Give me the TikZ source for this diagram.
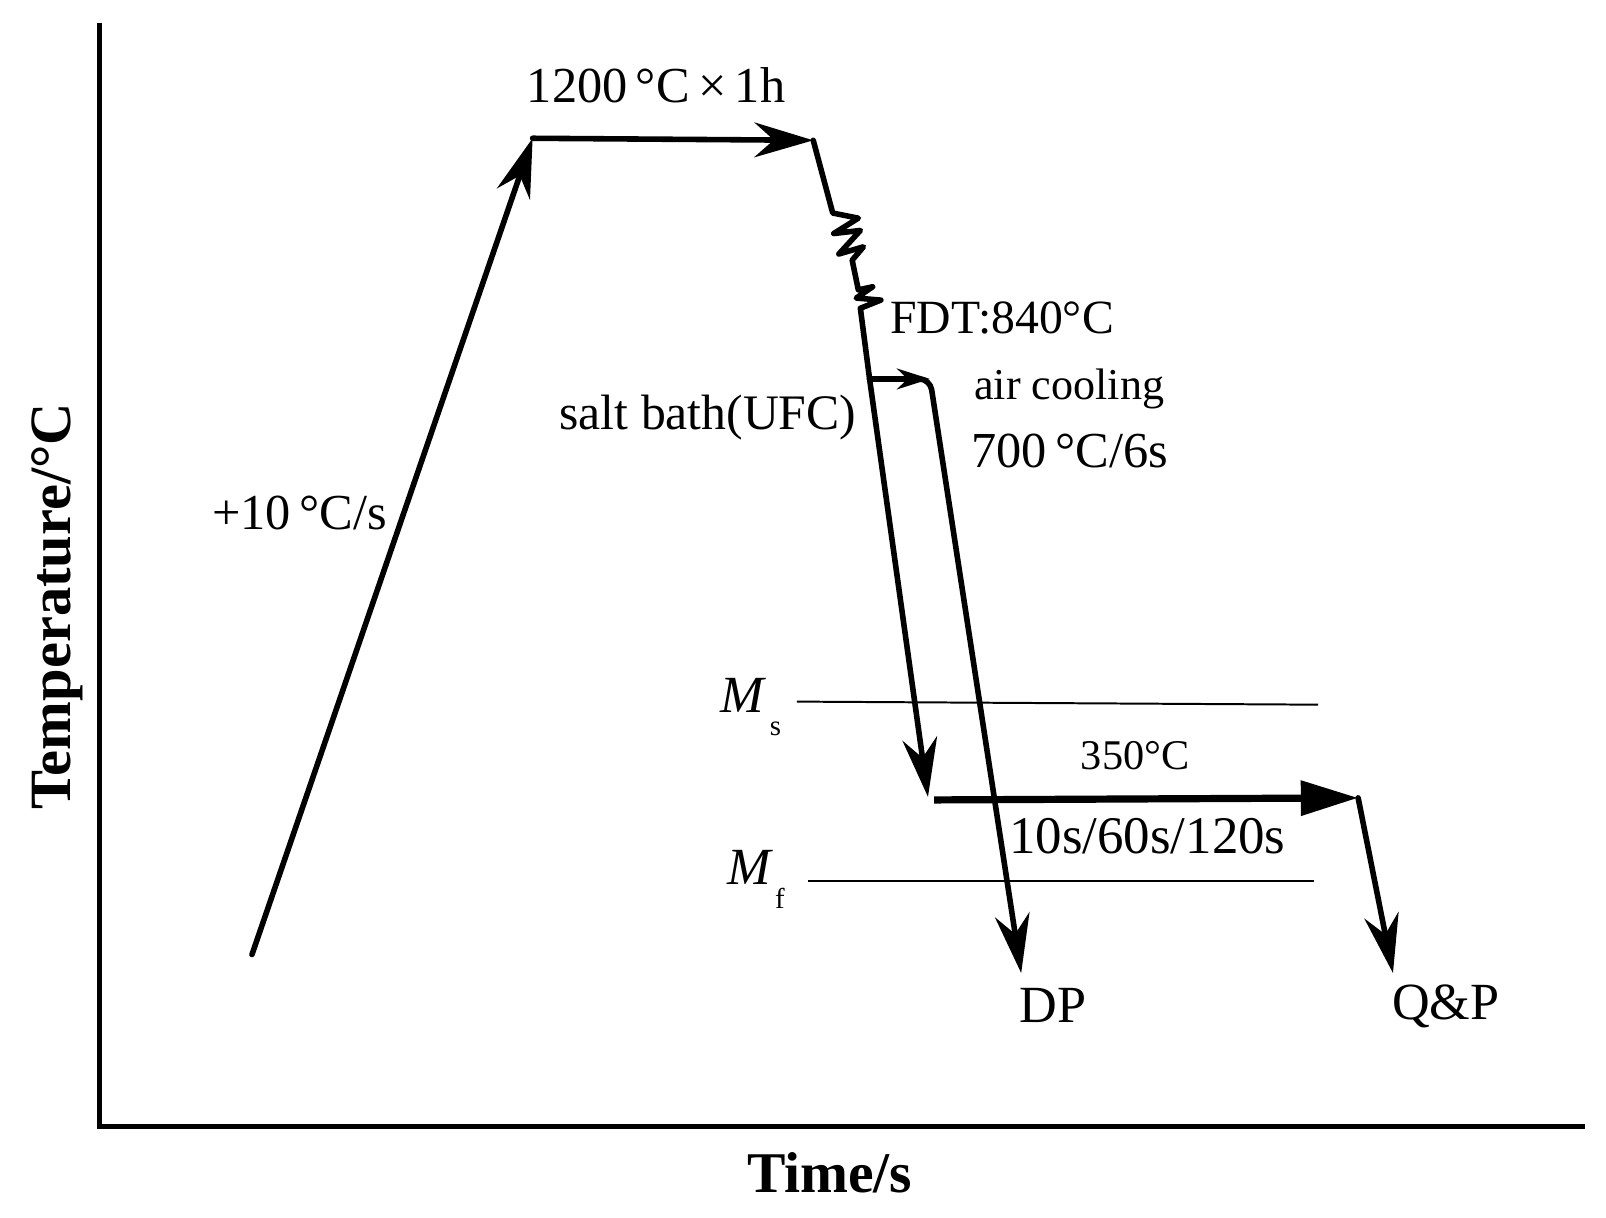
\documentclass[tikz,border=0pt]{standalone}
\usepackage{fontspec}
\setmainfont{Liberation Serif}
\usetikzlibrary{arrows.meta}
\newcommand{\fsz}[1]{\fontsize{#1}{#1}\selectfont}
\begin{document}
\begin{tikzpicture}[x=0.02cm,y=-0.02cm,
  axisline/.style={line width=2.8pt, line join=miter},
  route/.style={line width=3.1pt, line join=round, line cap=round},
  holdline/.style={line width=4pt},
  level/.style={line width=1.1pt},
  bigtip/.style={-{Stealth[length=1.15cm,width=0.68cm,inset=0.38cm]}},
  smalltip/.style={-{Stealth[length=0.64cm,width=0.4cm,inset=0.2cm]}},
  tritip/.style={-{Triangle[length=1.12cm,width=0.66cm]}},
  lbl/.style={inner sep=0pt, anchor=base west},
]
\useasboundingbox (0,0) rectangle (1568,1189);

% axes
\coordinate (Ytop) at (97,22);
\coordinate (O) at (97,1100);
\coordinate (Xend) at (1547,1100);
\draw[axisline] (Ytop) -- (O) -- (Xend);

% key points
\coordinate (A0) at (246,932);
\coordinate (A1) at (520,135);
\coordinate (A2) at (794,137);
\coordinate (Z1) at (813,208);
\coordinate (Z2) at (838,213);
\coordinate (Z3) at (814,228);
\coordinate (Z4) at (840,225);
\coordinate (Z5) at (819,248);
\coordinate (Z6) at (843,241);
\coordinate (Z7) at (832,254);
\coordinate (Z8) at (838,283);
\coordinate (Z9) at (852,280);
\coordinate (Z10) at (836,291);
\coordinate (Z11) at (860,293);
\coordinate (F) at (840,301);
\coordinate (B0) at (849,370);
\coordinate (B1) at (908,370);
\coordinate (DPtip) at (997,950);
\coordinate (UFCtip) at (906,778);
\coordinate (Q0) at (912,781);
\coordinate (Q1) at (1326,779);
\coordinate (QPtip) at (1360,950);
\coordinate (Ms0) at (778,685);
\coordinate (Ms1) at (1287,688);
\coordinate (Mf0) at (789,860);
\coordinate (Mf1) at (1283,860);

% heating ramp and soak
\draw[route, bigtip] (A0) -- (A1);
\draw[route, bigtip] (A1) -- (A2);
% rolling with zigzag
\draw[route] (A2) -- (Z1) -- (Z2) -- (Z3) -- (Z4) -- (Z5) -- (Z6) -- (Z7) -- (Z8) -- (Z9) -- (Z10) -- (Z11) -- (F) -- (B0);
% salt bath (UFC)
\draw[route, bigtip] (B0) -- (UFCtip);
% air cooling branch
\draw[route, rounded corners=6pt, bigtip] (B0) -- (B1) -- (DPtip);
\draw[route, smalltip] (B0) -- (B1);
% isothermal hold at 350
\draw[holdline, tritip] (Q0) -- (Q1);
\draw[route, bigtip] (Q1) -- (QPtip);

% Ms / Mf lines
\draw[level] (Ms0) -- (Ms1);
\draw[level] (Mf0) -- (Mf1);

% labels
\node[lbl] (t1200) at (514,100) {\fsz{28}1200\,°C\,×\,1h};
\node[lbl] (t10) at (207,517) {\fsz{28}+10\,°C/s};
\node[lbl] (tfdt) at (869,326) {\fsz{26.5}FDT:840°C};
\node[lbl] (tair) at (951,390) {\fsz{24.5}air cooling};
\node[lbl] (t700) at (948,456) {\fsz{28}700\,°C/6s};
\node[lbl] (tsalt) at (546,419) {\fsz{27.6}salt bath(UFC)};
\node[lbl] (t350) at (1055,751) {\fsz{23.5}350°C};
\node[lbl] (ttimes) at (985,833) {\fsz{29.4}10s/60s/120s};
\node[lbl] (tdp) at (995,998) {\fsz{29}DP};
\node[lbl] (tqp) at (1359,995) {\fsz{29}Q\&P};
\node[lbl] (tms) at (703,696) {\fsz{29}\textit{M}\kern2pt\raisebox{-12.5pt}{\fsz{16}s}};
\node[lbl] (tmf) at (710,864) {\fsz{29}\textit{M}\kern1pt\raisebox{-13pt}{\fsz{16}f}};
\node[lbl] (ttime) at (729,1164) {\fsz{32}\bfseries Time/s};
\node[lbl, rotate=90] (ttemp) at (69,791) {\fsz{32.5}\bfseries Temperature/°C};
\end{tikzpicture}
\end{document}
